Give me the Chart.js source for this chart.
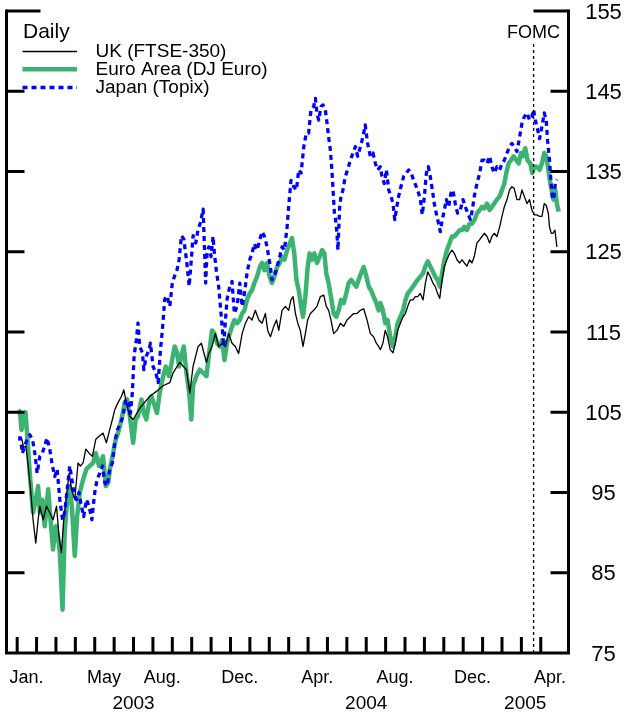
<!DOCTYPE html>
<html><head><meta charset="utf-8">
<script src="https://cdn.jsdelivr.net/npm/chart.js@4.4.1/dist/chart.umd.min.js"></script>
<style>html,body{margin:0;padding:0;background:#fff}canvas{display:block}</style>
</head><body>
<canvas id="c" width="627" height="714"></canvas>
<script>
// time axis: months since 1 Jan 2003 (fractional)
const ukT = [0.05,0.22,0.34,0.45,0.57,0.69,0.82,0.96,1.08,1.17,1.34,1.51,1.68,1.85,2.03,2.16,2.28,2.40,2.54,2.68,2.80,2.97,3.14,3.26,3.40,3.54,3.71,3.88,4.05,4.22,4.43,4.60,4.77,4.91,5.03,5.20,5.38,5.50,5.63,5.80,5.98,6.32,6.84,7.18,7.52,7.87,8.04,8.38,8.73,8.90,9.07,9.33,9.50,9.76,9.88,10.05,10.22,10.39,10.57,10.74,10.91,11.08,11.25,11.42,11.60,11.77,11.94,12.11,12.28,12.46,12.63,12.80,12.92,13.06,13.23,13.37,13.49,13.66,13.83,14.00,14.12,14.23,14.35,14.47,14.60,14.74,14.86,14.98,15.12,15.29,15.46,15.63,15.81,15.94,16.06,16.18,16.32,16.49,16.67,16.84,17.01,17.18,17.35,17.52,17.70,17.87,18.04,18.21,18.38,18.52,18.64,18.73,18.86,18.98,19.10,19.24,19.38,19.50,19.62,19.76,19.90,20.02,20.14,20.27,20.41,20.53,20.65,20.79,20.93,21.05,21.17,21.30,21.44,21.56,21.68,21.79,21.91,22.03,22.16,22.30,22.42,22.54,22.68,22.82,22.94,23.06,23.19,23.33,23.45,23.57,23.71,23.85,23.97,24.09,24.23,24.36,24.48,24.60,24.74,24.88,25.00,25.12,25.26,25.39,25.51,25.63,25.77,25.91,26.03,26.15,26.29,26.42,26.54,26.67,26.80,26.94,27.06,27.18,27.28,27.39,27.45,27.54,27.62,27.73,27.83];
const ukV = [101.5,101.8,100.6,100.8,98.3,95.4,91.6,88.7,91.6,93.3,91.6,93.3,92.5,91.6,93.3,89.5,87.5,91.6,94.5,97.4,95.4,94.1,98.7,98.3,98.7,100.4,99.9,99.5,101.6,102.0,102.4,101.2,102.8,104.1,105.3,106.2,107.0,107.8,106.2,104.5,104.1,105.5,107.0,107.6,108.3,108.7,109.9,111.2,110.3,107.4,110.7,113.2,113.6,111.2,112.3,113.2,114.8,113.2,113.6,113.2,114.8,113.6,113.2,112.3,114.8,116.1,116.9,116.5,117.7,116.5,116.1,117.3,115.2,114.4,115.7,116.5,115.2,117.7,118.2,117.7,119.0,119.4,117.3,116.1,115.2,113.2,114.8,116.5,117.3,117.7,118.2,119.4,119.6,118.2,117.7,116.5,114.8,115.2,116.1,115.7,116.5,116.9,117.3,117.3,117.7,117.9,116.5,114.8,114.4,113.6,113.2,112.8,113.6,115.2,114.4,112.8,112.4,113.6,115.2,116.1,116.9,117.3,118.2,119.0,119.0,119.4,119.4,119.8,119.0,121.1,122.5,121.9,121.1,120.65,119.8,119.2,121.5,123.2,124.0,124.8,125.2,124.8,124.0,123.6,124.0,123.6,123.2,124.0,123.6,124.4,126.1,126.5,126.9,127.3,126.9,126.1,126.9,127.3,126.9,128.1,129.4,130.6,131.5,132.7,133.1,132.9,131.5,131.5,132.7,131.9,131.0,131.5,130.2,129.6,129.6,129.4,129.4,131.0,130.8,129.8,128.1,127.3,127.3,127.7,125.6];

const euroT = [0.05,0.15,0.22,0.43,0.51,0.65,0.82,0.96,1.08,1.17,1.30,1.42,1.60,1.72,1.85,1.99,2.11,2.20,2.34,2.45,2.58,2.71,2.83,2.97,3.09,3.23,3.40,3.57,3.74,3.92,4.05,4.22,4.43,4.57,4.69,4.81,4.95,5.08,5.20,5.38,5.55,5.67,5.81,5.98,6.11,6.23,6.41,6.53,6.66,6.80,6.92,7.09,7.21,7.35,7.49,7.66,7.83,8.00,8.12,8.25,8.35,8.47,8.59,8.73,8.87,8.98,9.07,9.24,9.41,9.59,9.76,9.88,10.05,10.17,10.31,10.45,10.57,10.69,10.82,10.96,11.08,11.20,11.34,11.48,11.60,11.72,11.85,11.99,12.11,12.23,12.37,12.51,12.63,12.75,12.88,13.02,13.14,13.26,13.40,13.54,13.66,13.78,13.92,14.05,14.17,14.29,14.40,14.52,14.64,14.74,14.86,14.98,15.08,15.20,15.32,15.46,15.60,15.72,15.84,15.94,16.06,16.18,16.32,16.46,16.58,16.70,16.84,16.97,17.09,17.22,17.35,17.49,17.61,17.73,17.87,18.01,18.13,18.25,18.38,18.52,18.64,18.73,18.86,18.98,19.10,19.24,19.38,19.50,19.62,19.76,19.90,20.02,20.14,20.27,20.41,20.53,20.65,20.79,20.93,21.05,21.17,21.30,21.44,21.56,21.68,21.79,21.91,22.03,22.16,22.30,22.42,22.54,22.68,22.82,22.94,23.06,23.19,23.33,23.45,23.57,23.71,23.85,23.97,24.09,24.23,24.36,24.48,24.60,24.74,24.88,25.00,25.12,25.22,25.34,25.46,25.60,25.74,25.86,25.98,26.08,26.20,26.32,26.46,26.56,26.67,26.80,26.94,27.06,27.18,27.28,27.37,27.46,27.56,27.66,27.75,27.83,27.92];
const euroV = [105.3,105.0,102.8,105.0,102.4,97.4,92.5,94.1,95.8,92.5,94.1,90.8,95.4,91.6,87.9,90.8,89.5,87.5,80.4,90.0,94.1,95.8,92.9,87.1,92.0,95.0,96.6,97.9,98.3,98.7,99.9,98.3,99.5,95.8,96.2,98.3,99.9,101.6,102.4,104.1,106.2,106.6,104.5,101.2,104.1,104.5,106.6,104.9,104.1,106.2,107.0,105.8,104.9,107.4,109.1,110.7,109.5,111.6,113.2,112.4,110.7,112.0,113.2,109.9,107.4,104.1,108.3,109.5,110.3,109.9,109.5,112.0,115.2,114.8,113.6,113.2,114.0,111.5,113.6,114.8,115.7,116.5,116.1,116.5,117.3,117.7,119.0,119.8,120.2,121.1,121.9,123.1,123.6,122.7,123.6,121.9,121.1,121.9,123.1,123.6,124.4,124.0,125.2,126.0,126.7,124.8,121.5,120.2,118.2,116.9,119.4,123.1,124.8,124.0,124.8,123.6,124.4,125.2,124.8,122.3,121.1,119.4,117.3,116.9,117.7,119.0,118.6,119.8,121.1,121.5,121.1,120.65,121.5,122.3,123.1,121.9,120.65,120.2,119.4,118.6,117.7,118.6,117.7,116.1,116.5,114.4,113.2,114.4,116.1,116.9,117.7,119.0,119.8,120.2,120.65,121.1,121.5,121.9,122.3,123.2,123.8,123.2,122.5,121.9,121.5,120.65,122.3,124.0,125.2,126.1,126.9,126.9,127.3,127.7,127.7,128.1,127.7,128.5,128.5,128.9,129.8,130.2,130.6,130.4,131.0,130.2,130.6,131.0,131.5,131.9,132.7,133.5,134.8,136.0,136.4,136.9,136.4,136.0,137.3,136.9,137.9,136.4,136.0,134.8,135.6,135.6,135.2,136.0,137.3,136.9,135.6,134.0,132.7,131.5,132.7,131.0,130.0];

const japanT = [0.05,0.17,0.27,0.39,0.51,0.65,0.79,0.91,1.03,1.17,1.30,1.42,1.54,1.68,1.82,1.94,2.06,2.20,2.34,2.45,2.58,2.71,2.80,2.92,3.06,3.19,3.31,3.43,3.57,3.71,3.85,4.00,4.12,4.26,4.40,4.52,4.64,4.77,4.91,5.03,5.17,5.32,5.46,5.60,5.72,5.84,5.94,6.03,6.15,6.23,6.32,6.46,6.53,6.66,6.80,6.87,7.01,7.15,7.27,7.39,7.49,7.61,7.73,7.87,8.00,8.12,8.25,8.35,8.47,8.59,8.73,8.87,8.98,9.07,9.21,9.33,9.45,9.59,9.72,9.79,9.88,10.00,10.10,10.17,10.27,10.39,10.48,10.57,10.65,10.74,10.82,10.96,11.08,11.20,11.34,11.48,11.60,11.72,11.85,11.99,12.11,12.23,12.37,12.51,12.63,12.75,12.85,12.97,13.06,13.14,13.26,13.40,13.54,13.66,13.78,13.92,14.00,14.12,14.26,14.40,14.52,14.64,14.78,14.91,15.03,15.15,15.29,15.38,15.46,15.55,15.67,15.77,15.89,15.98,16.06,16.15,16.24,16.29,16.36,16.42,16.49,16.54,16.63,16.70,16.80,16.92,17.04,17.18,17.32,17.44,17.56,17.70,17.83,17.95,18.07,18.21,18.35,18.47,18.59,18.73,18.81,18.93,19.04,19.16,19.28,19.38,19.47,19.55,19.67,19.79,19.93,20.07,20.19,20.31,20.45,20.58,20.70,20.79,20.89,21.00,21.10,21.20,21.30,21.41,21.51,21.61,21.73,21.82,21.92,22.03,22.13,22.25,22.37,22.47,22.59,22.71,22.85,22.99,23.11,23.23,23.37,23.47,23.57,23.71,23.85,23.97,24.09,24.23,24.36,24.48,24.60,24.74,24.88,25.00,25.12,25.26,25.39,25.51,25.63,25.77,25.91,26.03,26.15,26.29,26.42,26.54,26.63,26.72,26.84,26.94,27.06,27.18,27.28,27.35,27.45,27.52,27.59,27.66,27.75,27.83];
const japanV = [101.8,101.8,99.9,100.8,101.6,102.2,101.6,99.9,97.4,99.5,99.9,100.8,101.8,100.4,98.3,97.0,97.9,94.1,91.6,92.5,95.4,98.3,97.0,95.0,94.1,95.0,93.3,92.0,94.1,93.3,91.6,95.0,96.6,97.4,98.3,96.2,95.8,97.9,98.7,101.2,102.8,103.6,104.5,106.6,106.2,104.9,107.4,112.0,114.1,116.1,113.2,112.4,110.3,112.0,112.8,113.6,110.7,109.9,108.7,112.8,115.3,119.1,119.5,118.2,121.1,122.0,122.8,124.0,127.0,126.6,124.0,120.7,124.0,127.0,126.1,127.8,128.6,130.3,121.1,124.8,125.6,124.4,126.9,124.8,122.7,120.65,118.2,115.7,113.2,116.5,119.0,120.65,121.3,117.3,118.2,121.1,118.2,119.8,122.3,124.0,124.8,126.0,125.2,126.5,127.5,126.9,126.0,124.4,123.1,121.5,121.9,123.1,124.4,125.6,125.2,128.1,130.6,133.9,133.1,132.7,135.2,134.8,138.1,139.8,139.8,142.7,143.1,144.1,142.2,141.4,143.1,143.3,142.7,141.0,139.3,137.7,134.8,132.7,129.8,129.0,127.3,125.2,130.6,131.9,132.7,134.4,135.2,136.4,137.3,138.1,136.9,138.1,139.3,140.8,138.5,136.9,137.3,136.0,135.2,135.6,134.4,133.5,135.2,132.7,131.9,131.0,129.0,130.2,131.9,133.1,134.4,134.8,135.2,134.8,133.9,133.1,132.3,131.5,129.6,131.9,134.8,135.6,134.4,132.7,131.0,129.8,128.5,127.5,129.0,130.2,131.5,130.6,132.3,132.7,131.0,129.8,130.2,131.5,130.6,129.8,129.0,130.2,131.9,133.5,134.8,136.4,136.4,136.0,136.9,135.6,134.8,135.6,135.2,136.0,136.4,137.3,138.1,138.5,138.1,137.5,139.3,141.0,141.8,142.3,141.4,141.8,142.7,141.4,140.2,139.1,140.6,142.3,141.4,138.9,136.4,134.0,131.9,131.5,133.5,134.0];

const seriesNames = ['UK (FTSE-350)', 'Euro Area (DJ Euro)', 'Japan (Topix)'];
const yTicks = [85, 95, 105, 115, 125, 135, 145, 155];
const yLabels = [75, 85, 95, 105, 115, 125, 135, 145, 155];
const monthTicks = [0,1,2,3,4,5,6,7,8,9,10,11,12,13,14,15,16,17,18,19,20,21,22,23,24,25,26,27];
const monthLabelPos = [0, 4, 7, 11, 15, 19, 23, 27];
const monthLabels = ['Jan.', 'May', 'Aug.', 'Dec.', 'Apr.', 'Aug.', 'Dec.', 'Apr.'];
const yearLabelPos = [6, 18, 26.2];
const yearLabels = ['2003', '2004', '2005'];
const fomcT = 26.63; // 22 Mar 2005

const FONT = '"Liberation Sans", Arial, Helvetica, sans-serif';
const zip = (t, v) => t.map((x, i) => ({x, y: v[i]}));

const styles = [
  {borderColor:'#000000', borderWidth:1.3, borderDash:[]},
  {borderColor:'#3cb371', borderWidth:4.5, borderDash:[]},
  {borderColor:'#0000ff', borderWidth:3.3, borderDash:[5,4]}
];

const deco = {
  id: 'deco',
  afterDraw(chart) {
    const {ctx, chartArea: a, scales: {x, y}} = chart;
    ctx.save();
    ctx.fillStyle = '#000';
    ctx.strokeStyle = '#000';
    // FOMC line
    const fx = x.getPixelForValue(fomcT);
    ctx.lineWidth = 1.3;
    ctx.setLineDash([3, 3]);
    ctx.beginPath(); ctx.moveTo(fx, 44); ctx.lineTo(fx, a.bottom); ctx.stroke();
    ctx.setLineDash([]);
    ctx.font = '18px ' + FONT;
    ctx.textAlign = 'center'; ctx.textBaseline = 'alphabetic';
    ctx.fillText('FOMC', fx, 38);
    // axes frame (left, right, bottom)
    ctx.lineWidth = 3; ctx.lineCap = 'butt';
    ctx.beginPath();
    ctx.moveTo(a.left, a.top - 1.5); ctx.lineTo(a.left, a.bottom + 1.5);
    ctx.moveTo(a.right, a.top - 1.5); ctx.lineTo(a.right, a.bottom + 1.5);
    ctx.moveTo(a.left - 1.5, a.bottom); ctx.lineTo(a.right + 1.5, a.bottom);
    ctx.stroke();
    // y ticks
    ctx.beginPath();
    yTicks.forEach(v => {
      const py = y.getPixelForValue(v);
      const longL = v === 155 ? 34 : 18;
      const longR = v === 155 ? 35 : 18;
      ctx.moveTo(a.left, py); ctx.lineTo(a.left + longL, py);
      ctx.moveTo(a.right, py); ctx.lineTo(a.right - longR, py);
    });
    // x ticks
    monthTicks.forEach(m => {
      const px = x.getPixelForValue(m);
      ctx.moveTo(px, a.bottom); ctx.lineTo(px, a.bottom - 16);
    });
    ctx.stroke();
    // y labels (right)
    ctx.font = '22px ' + FONT;
    ctx.textAlign = 'center'; ctx.textBaseline = 'middle';
    yLabels.forEach(v => ctx.fillText(String(v), 603.5, y.getPixelForValue(v) + 1.5));
    // x labels
    ctx.textBaseline = 'alphabetic';
    ctx.font = '18px ' + FONT;
    monthLabelPos.forEach((m, i) => ctx.fillText(monthLabels[i], x.getPixelForValue(m + 0.48), 683));
    ctx.font = '19px ' + FONT;
    yearLabelPos.forEach((m, i) => ctx.fillText(yearLabels[i], x.getPixelForValue(m), 709));
    // legend
    ctx.textAlign = 'left';
    ctx.font = '21px ' + FONT;
    ctx.fillText('Daily', 23, 37.5);
    ctx.font = '19px ' + FONT;
    const ly = [51.5, 69.3, 87.5];
    const ty = [57.3, 75, 92.8];
    seriesNames.forEach((n, i) => {
      const s = styles[i];
      ctx.strokeStyle = s.borderColor; ctx.lineWidth = s.borderWidth; ctx.setLineDash(s.borderDash);
      ctx.beginPath(); ctx.moveTo(22.5, ly[i]); ctx.lineTo(77, ly[i]); ctx.stroke();
      ctx.setLineDash([]);
      ctx.fillText(n, 95.5, ty[i]);
    });
    ctx.restore();
  }
};

new Chart(document.getElementById('c'), {
  type: 'line',
  data: {
    datasets: [
      Object.assign({label: seriesNames[2], data: zip(japanT, japanV), order: 0}, styles[2]),
      Object.assign({label: seriesNames[0], data: zip(ukT, ukV), order: 1}, styles[0]),
      Object.assign({label: seriesNames[1], data: zip(euroT, euroV), order: 2}, styles[1])
    ]
  },
  options: {
    responsive: false,
    animation: false,
    devicePixelRatio: 1,
    parsing: true,
    elements: {point: {radius: 0}, line: {tension: 0, borderJoinStyle: 'round', borderCapStyle: 'butt', fill: false}},
    layout: {padding: {left: 6.5, right: 58.5, top: 11, bottom: 61}},
    plugins: {legend: {display: false}, tooltip: {enabled: false}},
    scales: {
      x: {type: 'linear', min: -0.55, max: 28.43, display: false},
      y: {type: 'linear', min: 75, max: 155, display: false}
    }
  },
  plugins: [deco]
});
</script>
</body></html>
